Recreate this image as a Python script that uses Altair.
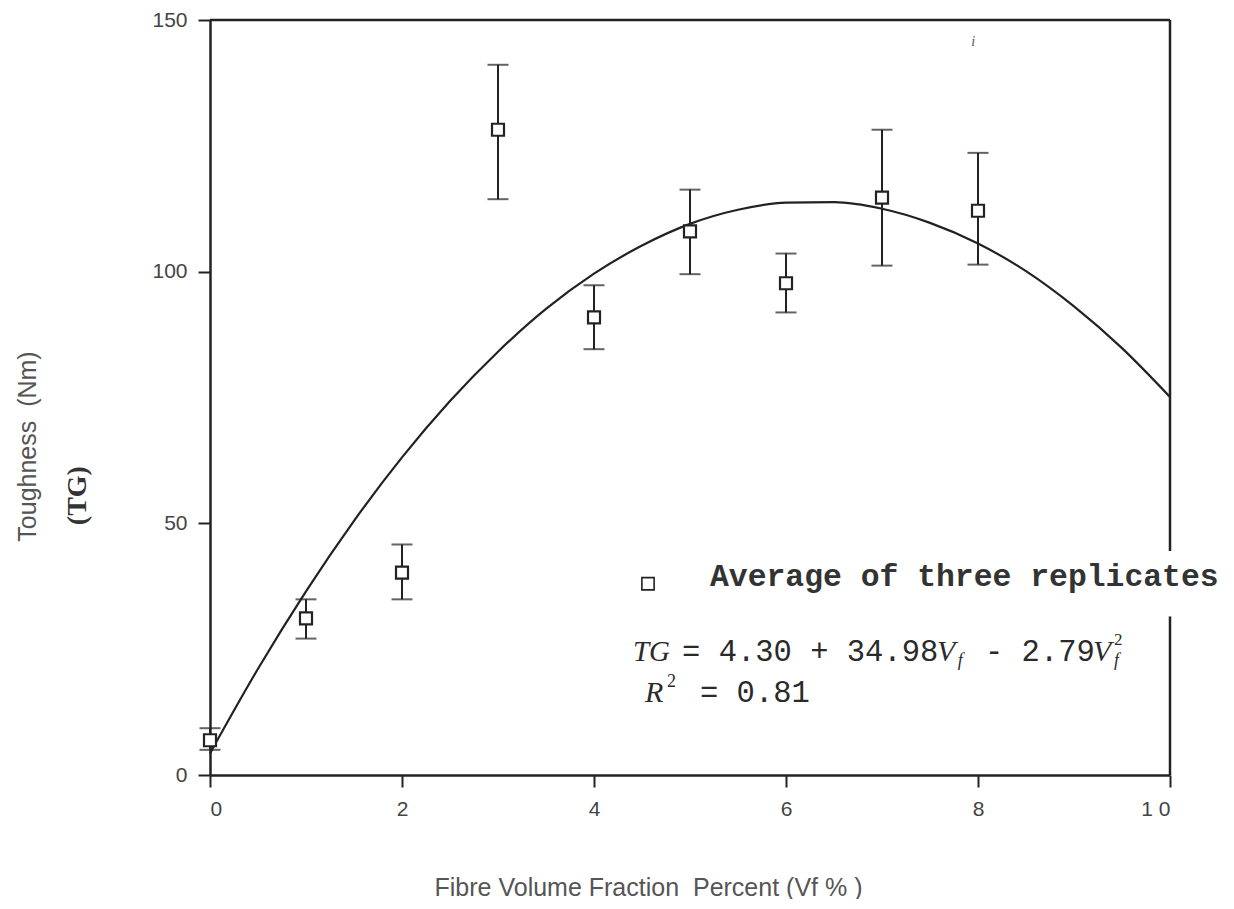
import altair as alt
import pandas as pd

# Measured points (average of three replicates) with error bars
vf = [0, 1, 2, 3, 4, 5, 6, 7, 8]
tg_mean = [6.9, 31.1, 40.2, 128.2, 90.9, 108.0, 97.7, 114.7, 112.1]
tg_hi = [9.3, 34.9, 45.8, 141.1, 97.3, 116.3, 103.6, 128.2, 123.6]
tg_lo = [5.0, 27.1, 34.9, 114.4, 84.6, 99.5, 91.9, 101.2, 101.4]

# Fitted curve
curve_x = [0, 0.5, 1, 1.5, 2, 2.5, 3, 3.5, 4, 4.5, 5, 5.5, 6, 6.5, 7, 7.5, 8, 8.5, 9, 9.5, 10]
curve_y = [4.3, 21.1, 36.5, 50.5, 63.1, 74.3, 84.1, 92.6, 99.6, 105.2, 109.5, 112.3, 113.7,
           113.8, 112.5, 109.7, 105.6, 100.1, 93.1, 84.8, 75.1]

x_ticks = [0, 2, 4, 6, 8, 10]
y_ticks = [0, 50, 100, 150]

pts = pd.DataFrame({"vf": vf, "tg": tg_mean, "lo": tg_lo, "hi": tg_hi})
curve = pd.DataFrame({"vf": curve_x, "tg": curve_y})

INK = "#222222"
NB = "\u00a0"
xs = alt.Scale(domain=[0, 10], nice=False, zero=False)
ys = alt.Scale(domain=[0, 150], nice=False, zero=False)

X = alt.X("vf:Q", scale=xs,
          axis=alt.Axis(values=x_ticks, format="d",
                        title=f"Fibre Volume Fraction{NB}{NB}Percent (Vf % )",
                        labelExpr="datum.value == 10 ? '1 0' : datum.label",
                        titleX=438, titleY=112, titleAlign="center", titleBaseline="middle"))
Y = alt.Y("tg:Q", scale=ys,
          axis=alt.Axis(values=y_ticks, format="d", title=f"Toughness{NB}{NB}(Nm)",
                        titleX=-183, titleY=426, titleAlign="center", titleBaseline="middle",
                        titleAngle=270))

line = alt.Chart(curve).mark_line(color=INK, strokeWidth=2.2, interpolate="monotone").encode(
    x=X, y=Y)

bars = alt.Chart(pts).mark_rule(color=INK, strokeWidth=2).encode(
    x=alt.X("vf:Q", scale=xs), y=alt.Y("lo:Q", scale=ys), y2="hi:Q")
cap_hi = alt.Chart(pts).mark_tick(orient="horizontal", size=21, thickness=2, color=INK).encode(
    x=alt.X("vf:Q", scale=xs), y=alt.Y("hi:Q", scale=ys))
cap_lo = alt.Chart(pts).mark_tick(orient="horizontal", size=21, thickness=2, color=INK).encode(
    x=alt.X("vf:Q", scale=xs), y=alt.Y("lo:Q", scale=ys))
squares = alt.Chart(pts).mark_square(fill="white", stroke=INK, strokeWidth=2.2, size=144,
                                     opacity=1).encode(
    x=alt.X("vf:Q", scale=xs), y=alt.Y("tg:Q", scale=ys))

# frame: top and right borders (right border broken by legend text)
border = pd.DataFrame({"x": [0, 10, 10], "x2": [10, 10, 10],
                       "y": [150, 150, 31.5], "y2": [150, 44.5, 0]})
frame = alt.Chart(border).mark_rule(color=INK, strokeWidth=2.5).encode(
    x=alt.X("x:Q", scale=xs), x2="x2:Q", y=alt.Y("y:Q", scale=ys), y2="y2:Q")

# legend
leg_sq = alt.Chart(pd.DataFrame({"x": [4.5625], "y": [38.0]})).mark_square(
    fill="white", stroke=INK, strokeWidth=1.6, size=150, opacity=1).encode(
    x=alt.X("x:Q", scale=xs), y=alt.Y("y:Q", scale=ys))


def txt(text, x, y, font, size, style="normal", weight="normal", color="#2a2a2a", angle=0,
        align="left"):
    return alt.Chart(pd.DataFrame({"x": [x], "y": [y], "t": [text]})).mark_text(
        font=font, fontSize=size, fontStyle=style, fontWeight=weight, color=color,
        align=align, baseline="middle", angle=angle).encode(
        x=alt.X("x:Q", scale=xs), y=alt.Y("y:Q", scale=ys), text="t:N")


MONO = "Liberation Mono"
SERIF = "Liberation Serif"
labels = [
    txt("Average of three replicates", 5.208, 39.4, MONO, 31.4, weight="bold", color="#333"),
    txt("TG", 4.406, 24.4, SERIF, 29, style="italic"),
    txt("= 4.30 + 34.98", 4.917, 24.4, MONO, 30.5),
    txt("V", 7.573, 24.4, SERIF, 30, style="italic"),
    txt("f", 7.79, 22.6, SERIF, 18, style="italic"),
    txt("- 2.79", 8.073, 24.4, MONO, 30.5),
    txt("V", 9.198, 24.4, SERIF, 30, style="italic"),
    txt("f", 9.417, 22.6, SERIF, 18, style="italic"),
    txt("2", 9.417, 26.8, SERIF, 17),
    txt("R", 4.531, 16.2, SERIF, 30, style="italic"),
    txt("2", 4.76, 18.4, SERIF, 18),
    txt("= 0.81", 5.104, 16.2, MONO, 30.5),
    txt("(TG)", -1.375, 55.5, SERIF, 28, weight="bold", color="#333", angle=270, align="center"),
    txt("i", 7.95, 145.6, SERIF, 14, style="italic", color="#555", align="center"),
]

chart = alt.layer(line, bars, cap_hi, cap_lo, squares, frame, leg_sq, *labels).properties(
    width=960, height=755, autosize="none",
    padding={"left": 202, "top": 12, "right": 56, "bottom": 124},
    background="white",
).configure_view(stroke=None).configure_axis(
    grid=False, tickSize=12, tickWidth=2, domainWidth=2.5, domainColor=INK, tickColor=INK,
    labelFont="Liberation Sans", labelFontSize=21, labelColor="#444", labelPadding=11,
    titleFont="Liberation Sans", titleFontSize=25, titleFontWeight="normal", titleColor="#555",
)

chart.save("out.html", embed_options={"renderer": "svg", "actions": False})
